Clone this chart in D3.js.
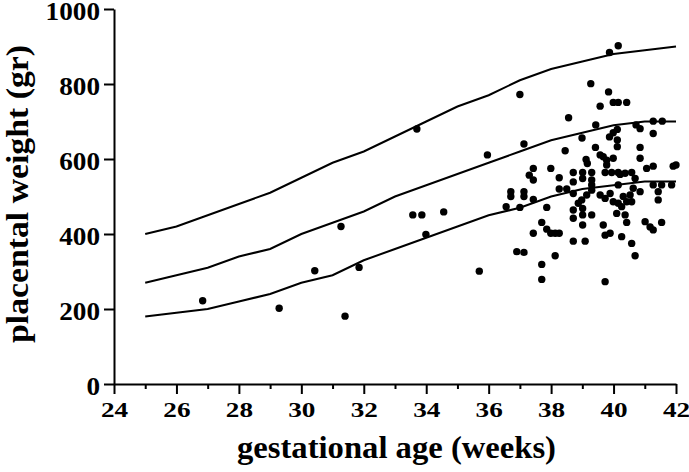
<!DOCTYPE html>
<html><head><meta charset="utf-8">
<script src="https://cdn.jsdelivr.net/npm/d3@7"></script>
<style>body{margin:0;background:#fff}svg{display:block}</style>
</head><body>
<script>
// ---- data ----
const curveWeeks = [25,26,27,28,29,30,31,32,33,34,35,36,37,38,39,40,41,42];
const upperCurve = [400,420,450,480,510,550,590,620,660,700,740,770,810,840,860,880,890,900];
const middleCurve = [270,290,310,340,360,400,430,460,500,530,560,590,620,650,670,690,700,700];
const lowerCurve = [180,190,200,220,240,270,290,330,360,390,420,450,470,500,520,530,540,540];

const pointWeeks = [
26.84,29.29,30.43,31.27,31.40,31.85,33.57,33.70,33.86,33.99,34.56,35.70,35.96,
40.15,39.87,37.00,39.27,39.84,39.57,39.99,40.15,40.42,38.56,39.43,41.27,41.56,40.72,40.85,40.12,39.99,39.87,40.12,40.12,41.27,37.13,38.99,39.42,38.45,40.85,39.57,39.67,39.78,39.99,39.12,39.16,40.85,37.43,37.99,39.78,41.06,41.27,41.91,42.00,
37.30,37.43,38.26,38.26,36.71,36.71,37.13,37.13,37.43,36.56,37.00,37.86,37.70,37.43,37.86,37.99,38.13,38.26,36.90,37.13,38.13,37.70,37.70,
38.71,39.01,39.01,39.30,39.30,39.30,39.30,39.73,39.94,40.15,38.71,38.50,38.71,39.14,38.98,38.87,39.57,39.73,39.89,39.99,40.15,40.31,40.15,38.71,38.71,39.01,39.01,39.30,39.01,39.67,39.73,39.89,40.26,38.71,39.09,39.73,
40.21,40.58,40.69,41.27,41.54,41.86,41.43,41.43,40.63,40.85,40.53,40.42,40.58,40.26,40.37,40.42,41.01,41.17,41.27,41.54,40.58,40.69,40.10,40.37];
const pointWeights = [
222,202,302,420,181,311,451,680,451,399,459,301,611,
902,884,772,801,779,741,751,751,751,710,691,701,701,691,681,679,670,659,651,633,668,640,656,631,622,631,611,606,597,602,599,588,602,575,575,584,575,581,581,584,
557,544,550,520,513,500,513,500,492,473,471,471,431,402,413,402,402,402,353,351,342,319,279,
564,564,548,564,544,531,517,564,564,564,539,520,508,504,491,482,504,495,508,486,482,500,531,464,442,468,451,451,424,424,397,402,393,381,381,273,
559,564,548,531,531,531,513,491,522,513,504,486,486,473,451,431,433,419,411,431,375,342,455,562];

const xTicks = [24,26,28,30,32,34,36,38,40,42];
const xMinorTicks = [25,27,29,31,33,35,37,39,41];
const yTicks = [0,200,400,600,800,1000];
const xTitle = "gestational age (weeks)";
const yTitle = "placental weight (gr)";

// ---- drawing ----
const W = 689, H = 472;
const svg = d3.select("body").append("svg").attr("width", W).attr("height", H);
const x = d3.scaleLinear().domain([24, 42]).range([114, 676]);
const y = d3.scaleLinear().domain([0, 1000]).range([384, 9]);
const font = "'Liberation Serif','Times New Roman',serif";

// curves
const line = d3.line().x((d, i) => x(curveWeeks[i])).y(d => y(d));
[upperCurve, middleCurve, lowerCurve].forEach(c => {
  svg.append("path").datum(c).attr("d", line)
    .attr("fill", "none").attr("stroke", "#000").attr("stroke-width", 2);
});

// points
svg.append("g").selectAll("circle").data(pointWeeks).join("circle")
  .attr("cx", d => x(d)).attr("cy", (d, i) => y(pointWeights[i]))
  .attr("r", 3.7).attr("fill", "#000");

// x axis
const gx = svg.append("g").attr("transform", "translate(0,384)")
  .call(d3.axisBottom(x).tickValues(xTicks).tickSize(10).tickSizeOuter(0).tickFormat(d3.format("d")));
svg.append("g").attr("transform", "translate(0,384)")
  .call(d3.axisBottom(x).tickValues(xMinorTicks).tickSize(5).tickSizeOuter(0).tickFormat(""))
  .call(g => g.select(".domain").remove());
// y axis
const gy = svg.append("g").attr("transform", "translate(114,0)")
  .call(d3.axisLeft(y).tickValues(yTicks).tickSize(10).tickSizeOuter(0).tickFormat(d3.format("d")));

svg.selectAll("g").attr("font-family", null).style("font-family", font);
svg.selectAll(".domain, .tick line").attr("stroke", "#000").attr("stroke-width", 2);
svg.selectAll(".tick text").attr("fill", "#000").style("font-family", font).style("font-weight", "bold");

gx.selectAll(".tick text").style("font-size", "21px").attr("y", 0).attr("dy", 0)
  .attr("transform", "translate(0,33)")
  .attr("textLength", d => String(d).length * 13.6).attr("lengthAdjust", "spacingAndGlyphs");
gy.selectAll(".tick text").style("font-size", "25px").attr("x", -14).attr("dy", 0)
  .attr("transform", "translate(0,10)")
  .attr("textLength", d => String(d).length * 13.6).attr("lengthAdjust", "spacingAndGlyphs");

// titles
svg.append("text").text(xTitle).attr("x", 237).attr("y", 458)
  .style("font-family", font).style("font-weight", "bold").style("font-size", "31px")
  .attr("textLength", 319).attr("lengthAdjust", "spacingAndGlyphs").attr("fill", "#000");
svg.append("text").text(yTitle)
  .attr("transform", "translate(28,343) rotate(-90)")
  .style("font-family", font).style("font-weight", "bold").style("font-size", "31px")
  .attr("textLength", 298).attr("lengthAdjust", "spacingAndGlyphs").attr("fill", "#000");
</script>
</body></html>
